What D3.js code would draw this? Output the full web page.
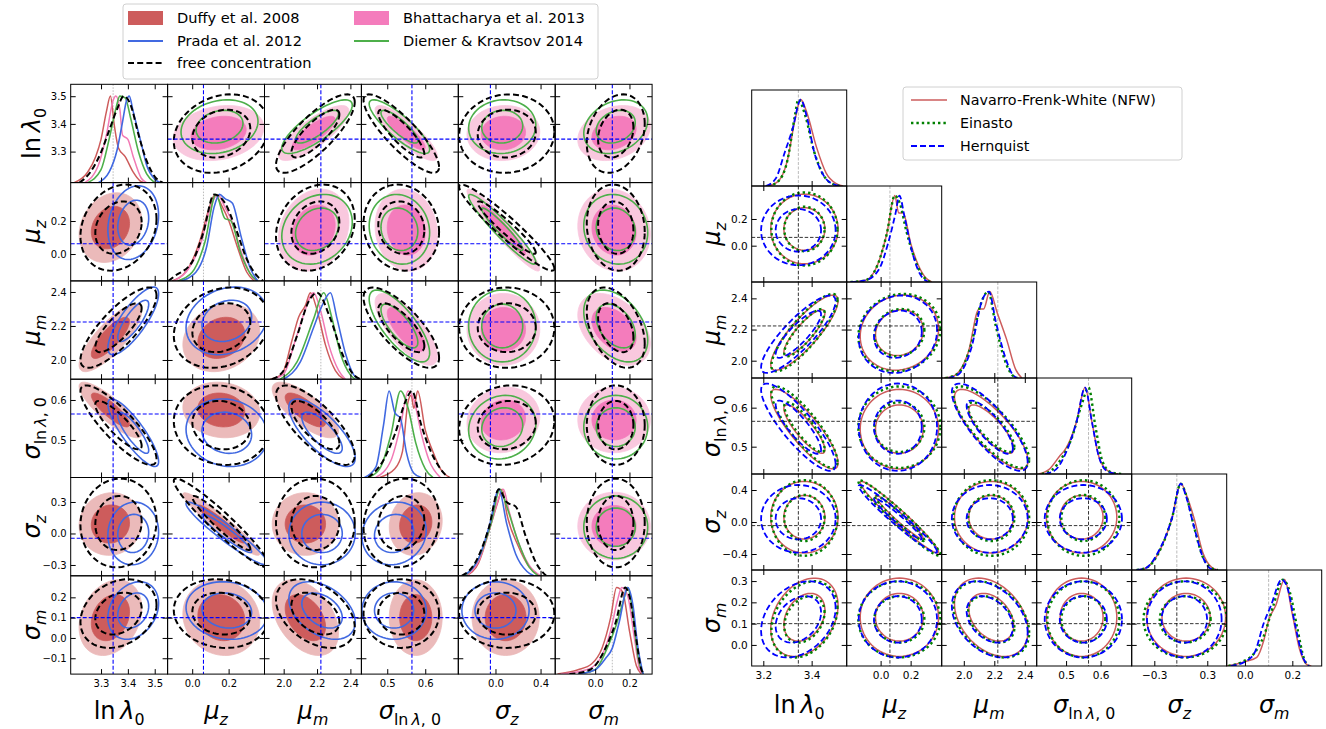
<!DOCTYPE html>
<html>
<head>
<meta charset="utf-8">
<script src="https://cdn.jsdelivr.net/npm/d3@7"></script>
<style>
  body { margin: 0; background: #fff; }
  svg { display: block; }
  text { font-family: "DejaVu Sans", sans-serif; fill: #000; }
</style>
</head>
<body>
<svg id="chart" width="1326" height="729"></svg>
<script>
// parameter order: ln lambda_0, mu_z, mu_m, sigma_lnlambda0, sigma_z, sigma_m
var paramLabels = [
    [{t: 'ln\u2009'}, {t: 'λ', i: 1}, {t: '0', s: 1}],
    [{t: 'μ', i: 1}, {t: 'z', i: 1, s: 1}],
    [{t: 'μ', i: 1}, {t: 'm', i: 1, s: 1}],
    [{t: 'σ', i: 1}, {t: 'ln\u2009', s: 1}, {t: 'λ', i: 1, s: 1}, {t: ', 0', s: 1}],
    [{t: 'σ', i: 1}, {t: 'z', i: 1, s: 1}],
    [{t: 'σ', i: 1}, {t: 'm', i: 1, s: 1}]
];
var truth = [3.345, 0.062, 2.223, 0.565, -0.045, 0.1];

// left corner plot: axis ranges and ticks
var leftXDomain = [[3.187, 3.548], [-0.135, 0.397], [1.885, 2.466], [0.432, 0.687], [-0.33, 0.53], [-0.233, 0.332]];
var leftYDomain = [[3.188, 3.543], [-0.163, 0.433], [1.887, 2.465], [0.406, 0.652], [-0.403, 0.533], [-0.178, 0.306]];
var leftXTicks = [[3.3, 3.4, 3.5], [0.0, 0.2], [2.0, 2.2, 2.4], [0.5, 0.6], [0.0, 0.4], [0.0, 0.2]];
var leftYTicks = [[3.3, 3.4, 3.5], [0.0, 0.2], [2.0, 2.2, 2.4], [0.5, 0.6], [-0.3, 0.0, 0.3], [-0.1, 0.0, 0.1, 0.2]];

// right corner plot: axis ranges and ticks
var rightXDomain = [[3.152, 3.545], [-0.226, 0.407], [1.855, 2.478], [0.415, 0.69], [-0.556, 0.52], [-0.077, 0.324]];
var rightYDomain = [[3.152, 3.545], [-0.272, 0.447], [1.889, 2.505], [0.43, 0.676], [-0.6, 0.6], [-0.099, 0.352]];
var rightXTicks = [[3.2, 3.4], [0.0, 0.2], [2.0, 2.2, 2.4], [0.5, 0.6], [-0.3, 0.3], [0.0, 0.2]];
var rightYTicks = [[3.2, 3.4], [0.0, 0.2], [2.0, 2.2, 2.4], [0.5, 0.6], [-0.4, 0.0, 0.4], [0.0, 0.1, 0.2, 0.3]];

// posterior summaries (mean, sd) per parameter
var duffyMean  = [3.335, 0.16, 2.13, 0.575, 0.09, 0.10];
var duffySd    = [0.047, 0.085, 0.08, 0.028, 0.12, 0.075];
var pradaMean  = [3.42, 0.19, 2.23, 0.518, 0.0, 0.135];
var pradaSd    = [0.038, 0.09, 0.08, 0.034, 0.12, 0.057];
var freeMean   = [3.365, 0.16, 2.19, 0.537, 0.1, 0.12];
var freeSd     = [0.057, 0.105, 0.095, 0.04, 0.17, 0.068];
var bhattMean  = [3.367, 0.145, 2.18, 0.55, 0.07, 0.11];
var bhattSd    = [0.04, 0.1, 0.085, 0.033, 0.13, 0.085];
var diemerMean = [3.39, 0.15, 2.2, 0.532, 0.06, 0.12];
var diemerSd   = [0.039, 0.085, 0.085, 0.032, 0.12, 0.075];

var nfwMean       = [3.37, 0.125, 2.18, 0.545, 0.06, 0.13];
var nfwSd         = [0.056, 0.105, 0.097, 0.041, 0.18, 0.074];
var einastoMean   = [3.37, 0.125, 2.18, 0.55, 0.05, 0.12];
var einastoSd     = [0.055, 0.11, 0.1, 0.042, 0.19, 0.072];
var hernquistMean = [3.345, 0.115, 2.17, 0.55, 0.04, 0.12];
var hernquistSd   = [0.062, 0.105, 0.1, 0.045, 0.17, 0.072];

// correlation coefficients between parameters
var corrLeft = [
    [1, 0.2, 0.8, -0.85, 0.05, 0.25],
    [0.2, 1, 0.2, -0.1, -0.95, -0.1],
    [0.8, 0.2, 1, -0.75, 0.0, -0.4],
    [-0.85, -0.1, -0.75, 1, 0.1, 0.0],
    [0.05, -0.95, 0.0, 0.1, 1, 0.0],
    [0.25, -0.1, -0.4, 0.0, 0.0, 1]
];
var corrRight = [
    [1, 0.0, 0.85, -0.85, 0.0, 0.3],
    [0.0, 1, 0.1, 0.0, -0.97, 0.0],
    [0.85, 0.1, 1, -0.8, 0.0, -0.35],
    [-0.85, 0.0, -0.8, 1, 0.0, 0.0],
    [0.0, -0.97, 0.0, 0.0, 1, 0.0],
    [0.3, 0.0, -0.35, 0.0, 0.0, 1]
];

// 1D marginals: [value, relative height]
var duffyMarg = [
    [[3.20, 0], [3.25, 0.12], [3.28, 0.3], [3.30, 0.5], [3.32, 0.82], [3.335, 1], [3.35, 0.65], [3.365, 0.4], [3.39, 0.3], [3.42, 0.12], [3.445, 0.02], [3.46, 0]],
    [[-0.11, 0], [-0.03, 0.12], [0.04, 0.45], [0.09, 0.82], [0.125, 1], [0.16, 0.88], [0.2, 0.7], [0.25, 0.38], [0.3, 0.1], [0.34, 0]],
    [[1.92, 0], [1.99, 0.06], [2.05, 0.45], [2.09, 0.72], [2.13, 0.85], [2.16, 1], [2.2, 0.8], [2.25, 0.4], [2.31, 0.1], [2.36, 0]],
    [[0.48, 0], [0.52, 0.1], [0.54, 0.3], [0.555, 0.88], [0.563, 0.95], [0.57, 0.8], [0.58, 1], [0.6, 0.55], [0.62, 0.3], [0.64, 0.1], [0.665, 0]],
    [[-0.26, 0], [-0.15, 0.15], [-0.05, 0.55], [0.02, 0.85], [0.06, 1], [0.1, 0.72], [0.2, 0.35], [0.3, 0.1], [0.39, 0]],
    [[-0.22, 0], [-0.1, 0.05], [-0.02, 0.12], [0.04, 0.3], [0.09, 0.65], [0.125, 1], [0.16, 0.95], [0.2, 0.5], [0.24, 0.1], [0.27, 0]]
];
var pradaMarg = [
    [[3.29, 0], [3.33, 0.12], [3.36, 0.38], [3.38, 0.7], [3.395, 0.95], [3.405, 1], [3.42, 0.82], [3.45, 0.45], [3.47, 0.2], [3.5, 0.04], [3.52, 0]],
    [[-0.06, 0], [0.02, 0.1], [0.08, 0.4], [0.12, 0.85], [0.15, 1], [0.18, 0.95], [0.22, 0.9], [0.27, 0.5], [0.32, 0.14], [0.36, 0]],
    [[2.0, 0], [2.1, 0.2], [2.18, 0.6], [2.23, 0.85], [2.28, 1], [2.32, 0.7], [2.37, 0.3], [2.42, 0.05], [2.45, 0]],
    [[0.44, 0], [0.47, 0.12], [0.49, 0.6], [0.505, 1], [0.52, 0.75], [0.535, 0.68], [0.55, 0.3], [0.57, 0.05], [0.59, 0]],
    [[-0.29, 0], [-0.15, 0.2], [-0.05, 0.6], [0.03, 1], [0.1, 0.6], [0.18, 0.25], [0.28, 0.05], [0.34, 0]],
    [[-0.1, 0], [0.0, 0.05], [0.06, 0.18], [0.1, 0.3], [0.14, 0.6], [0.19, 1], [0.22, 0.8], [0.25, 0.3], [0.28, 0]]
];
var freeMarg = [
    [[3.22, 0], [3.26, 0.12], [3.3, 0.35], [3.33, 0.6], [3.36, 0.85], [3.385, 1], [3.41, 0.9], [3.44, 0.55], [3.47, 0.25], [3.5, 0.07], [3.53, 0]],
    [[-0.13, 0], [-0.1, 0.05], [0.0, 0.22], [0.06, 0.55], [0.12, 1], [0.18, 0.9], [0.24, 0.6], [0.3, 0.25], [0.36, 0.05], [0.39, 0]],
    [[1.93, 0], [2.0, 0.1], [2.08, 0.5], [2.15, 0.9], [2.2, 1], [2.28, 0.7], [2.35, 0.3], [2.42, 0.05], [2.46, 0]],
    [[0.45, 0], [0.49, 0.2], [0.52, 0.5], [0.55, 0.9], [0.565, 1], [0.59, 0.6], [0.61, 0.35], [0.64, 0.1], [0.66, 0]],
    [[-0.3, 0], [-0.18, 0.15], [-0.06, 0.55], [0.03, 1], [0.1, 0.85], [0.18, 0.8], [0.27, 0.45], [0.36, 0.15], [0.45, 0]],
    [[-0.15, 0], [-0.03, 0.05], [0.06, 0.3], [0.12, 0.6], [0.175, 1], [0.2, 0.9], [0.24, 0.4], [0.27, 0.05], [0.29, 0]]
];
var bhattMarg = [
    [[3.24, 0], [3.29, 0.2], [3.32, 0.55], [3.345, 0.95], [3.355, 1], [3.37, 0.85], [3.38, 0.55], [3.4, 0.5], [3.42, 0.3], [3.45, 0.05], [3.47, 0]],
    [[-0.1, 0], [-0.02, 0.14], [0.05, 0.45], [0.1, 0.85], [0.14, 1], [0.18, 0.85], [0.22, 0.68], [0.27, 0.33], [0.32, 0.08], [0.35, 0]],
    [[1.93, 0], [2.0, 0.06], [2.07, 0.45], [2.12, 0.75], [2.18, 1], [2.22, 0.8], [2.27, 0.4], [2.33, 0.1], [2.37, 0]],
    [[0.47, 0], [0.51, 0.2], [0.535, 0.6], [0.555, 1], [0.57, 0.9], [0.59, 0.5], [0.61, 0.2], [0.64, 0]],
    [[-0.26, 0], [-0.15, 0.17], [-0.05, 0.55], [0.03, 0.9], [0.07, 1], [0.12, 0.75], [0.2, 0.4], [0.3, 0.12], [0.4, 0]],
    [[-0.2, 0], [-0.05, 0.05], [0.02, 0.15], [0.09, 0.5], [0.13, 0.85], [0.155, 1], [0.19, 0.9], [0.23, 0.4], [0.26, 0.05], [0.28, 0]]
];
var diemerMarg = [
    [[3.25, 0], [3.3, 0.15], [3.33, 0.5], [3.355, 0.85], [3.37, 1], [3.39, 0.98], [3.41, 0.75], [3.44, 0.35], [3.47, 0.1], [3.5, 0]],
    [[-0.08, 0], [0.0, 0.1], [0.07, 0.45], [0.13, 1], [0.18, 0.72], [0.21, 0.7], [0.27, 0.3], [0.33, 0.05], [0.36, 0]],
    [[1.98, 0], [2.08, 0.2], [2.18, 0.7], [2.24, 1], [2.29, 0.7], [2.34, 0.3], [2.4, 0.05], [2.43, 0]],
    [[0.45, 0], [0.48, 0.1], [0.51, 0.5], [0.535, 1], [0.555, 0.8], [0.575, 0.4], [0.6, 0.1], [0.62, 0]],
    [[-0.27, 0], [-0.15, 0.2], [-0.04, 0.6], [0.04, 1], [0.1, 0.8], [0.2, 0.4], [0.3, 0.1], [0.38, 0]],
    [[-0.1, 0], [0.0, 0.05], [0.07, 0.3], [0.12, 0.55], [0.165, 0.85], [0.19, 1], [0.22, 0.7], [0.25, 0.2], [0.28, 0]]
];
var nfwMarg = [
    [[3.22, 0], [3.26, 0.05], [3.3, 0.3], [3.33, 0.75], [3.355, 1], [3.38, 0.85], [3.42, 0.45], [3.46, 0.15], [3.5, 0.03], [3.53, 0]],
    [[-0.2, 0], [-0.1, 0.02], [-0.02, 0.2], [0.04, 0.55], [0.095, 1], [0.12, 0.8], [0.15, 0.8], [0.2, 0.45], [0.25, 0.2], [0.3, 0.05], [0.34, 0]],
    [[1.87, 0], [1.93, 0.02], [2.03, 0.3], [2.1, 0.8], [2.13, 0.8], [2.17, 1], [2.22, 0.75], [2.28, 0.45], [2.34, 0.1], [2.38, 0]],
    [[0.42, 0], [0.45, 0.05], [0.48, 0.2], [0.5, 0.3], [0.53, 0.6], [0.555, 1], [0.575, 0.6], [0.595, 0.2], [0.62, 0.04], [0.65, 0]],
    [[-0.5, 0], [-0.4, 0.02], [-0.25, 0.2], [-0.1, 0.6], [0.0, 1], [0.07, 0.85], [0.15, 0.6], [0.25, 0.2], [0.35, 0.03], [0.42, 0]],
    [[-0.077, 0], [0.0, 0.05], [0.05, 0.1], [0.08, 0.3], [0.1, 0.53], [0.13, 0.7], [0.167, 1], [0.2, 0.6], [0.23, 0.2], [0.26, 0.02], [0.28, 0]]
];
var einastoMarg = [
    [[3.22, 0], [3.26, 0.05], [3.3, 0.3], [3.33, 0.8], [3.345, 1], [3.375, 0.8], [3.41, 0.4], [3.45, 0.12], [3.49, 0.02], [3.52, 0]],
    [[-0.2, 0], [-0.1, 0.02], [-0.02, 0.2], [0.04, 0.55], [0.095, 1], [0.13, 0.9], [0.17, 0.6], [0.22, 0.3], [0.27, 0.1], [0.33, 0]],
    [[1.88, 0], [1.96, 0.05], [2.05, 0.4], [2.11, 0.85], [2.16, 1], [2.21, 0.6], [2.27, 0.2], [2.32, 0.03], [2.35, 0]],
    [[0.43, 0], [0.46, 0.05], [0.49, 0.2], [0.515, 0.4], [0.545, 0.8], [0.565, 1], [0.585, 0.55], [0.605, 0.15], [0.63, 0.02], [0.66, 0]],
    [[-0.5, 0], [-0.4, 0.02], [-0.25, 0.2], [-0.1, 0.6], [0.0, 1], [0.05, 0.9], [0.15, 0.5], [0.25, 0.15], [0.35, 0.02], [0.42, 0]],
    [[-0.07, 0], [-0.01, 0.05], [0.04, 0.15], [0.08, 0.35], [0.12, 0.7], [0.16, 1], [0.19, 0.85], [0.22, 0.45], [0.25, 0.08], [0.27, 0]]
];
var hernquistMarg = [
    [[3.21, 0], [3.25, 0.08], [3.29, 0.4], [3.32, 0.65], [3.355, 1], [3.38, 0.8], [3.41, 0.4], [3.45, 0.12], [3.49, 0.02], [3.52, 0]],
    [[-0.2, 0], [-0.1, 0.02], [-0.01, 0.15], [0.05, 0.45], [0.1, 0.8], [0.125, 1], [0.16, 0.75], [0.21, 0.35], [0.26, 0.1], [0.32, 0]],
    [[1.9, 0], [1.97, 0.05], [2.05, 0.35], [2.12, 0.9], [2.165, 1], [2.21, 0.65], [2.27, 0.25], [2.32, 0.04], [2.35, 0]],
    [[0.44, 0], [0.47, 0.05], [0.5, 0.25], [0.53, 0.6], [0.555, 1], [0.575, 0.6], [0.595, 0.2], [0.62, 0.03], [0.65, 0]],
    [[-0.5, 0], [-0.4, 0.02], [-0.25, 0.22], [-0.1, 0.6], [0.0, 1], [0.06, 0.85], [0.15, 0.5], [0.25, 0.15], [0.33, 0.02], [0.4, 0]],
    [[-0.06, 0], [0.0, 0.05], [0.04, 0.15], [0.08, 0.5], [0.11, 0.7], [0.155, 1], [0.18, 0.9], [0.21, 0.5], [0.245, 0.1], [0.27, 0]]
];

// chi-square radii (2 dof) of the 68% and 95% regions
var levels = [1.515, 2.486];

var svg = d3.select('#chart');
var fmt = d3.format('.1f');

// styles of each run; fills are [68%, 95%]
var duffy  = {mean: duffyMean, sd: duffySd, marg: duffyMarg, fills: ['#cd5c5c', '#ebbaba'], line: '#cd5c5c', lw: 1.5};
var prada  = {mean: pradaMean, sd: pradaSd, marg: pradaMarg, line: '#4169e1', lw: 1.6};
var free   = {mean: freeMean, sd: freeSd, marg: freeMarg, line: '#000', lw: 2, dash: '6,3.2'};
var bhatt  = {mean: bhattMean, sd: bhattSd, marg: bhattMarg, fills: ['#f47cbc', '#f9c8de'], line: '#f27ab5', lw: 1.5};
var diemer = {mean: diemerMean, sd: diemerSd, marg: diemerMarg, line: '#4daf4a', lw: 1.6};
var nfw       = {mean: nfwMean, sd: nfwSd, marg: nfwMarg, line: '#cd5c5c', lw: 1.5};
var einasto   = {mean: einastoMean, sd: einastoSd, marg: einastoMarg, line: '#008000', lw: 2.4, dash: '2.4,3'};
var hernquist = {mean: hernquistMean, sd: hernquistSd, marg: hernquistMarg, line: '#0000ff', lw: 1.8, dash: '6,3'};

// confidence ellipse of a run for parameter pair (i on x, j on y)
var contour = function(run, corr, i, j, k) {
    var rho = corr[i][j];
    return d3.range(0, 73).map(function(n) {
        var t = n / 72 * 2 * Math.PI;
        return [run.mean[i] + k * run.sd[i] * Math.cos(t),
                run.mean[j] + k * run.sd[j] * (rho * Math.cos(t) + Math.sqrt(1 - rho * rho) * Math.sin(t))];
    });
};

var writeLabel = function(sel, parts, size) {
    var down = false;
    parts.forEach(function(p) {
        var ts = sel.append('tspan').text(p.t)
            .style('font-size', (p.s ? size * 0.66 : size) + 'px')
            .style('font-style', p.i ? 'italic' : 'normal');
        if (p.s && !down) { ts.attr('dy', size * 0.27); down = true; }
        else if (!p.s && down) { ts.attr('dy', -size * 0.27); down = false; }
    });
};

var drawGrid = function(o) {
    var n = 6;
    for (var r = 0; r < n; r++) {
        for (var c = 0; c < n; c++) {
            if (o.lowerOnly && c > r) continue;
            var px = o.x0 + c * o.cw, py = o.y0 + r * o.ch;
            var g = svg.append('g').attr('transform', 'translate(' + px + ',' + py + ')');
            var xs = d3.scaleLinear().domain(o.xDom[c]).range([0, o.cw]);
            var ys = d3.scaleLinear().domain(o.yDom[r]).range([o.ch, 0]);
            var id = o.name + r + '_' + c;
            g.append('clipPath').attr('id', id)
              .append('rect').attr('width', o.cw).attr('height', o.ch);
            var body = g.append('g').attr('clip-path', 'url(#' + id + ')');

            if (r === c) {
                var hs = d3.scaleLinear().domain([0, 1]).range([o.ch, o.ch * (1 - o.peak)]);
                body.append('line')
                    .attr('x1', xs(truth[c])).attr('x2', xs(truth[c]))
                    .attr('y1', 0).attr('y2', o.ch)
                    .attr('stroke', '#aaa').attr('stroke-width', 0.8)
                    .attr('stroke-dasharray', o.diagDash);
                var dline = d3.line()
                    .x(function(d) { return xs(d[0]); })
                    .y(function(d) { return hs(d[1]); })
                    .curve(d3.curveMonotoneX);
                o.diagRuns.forEach(function(run) {
                    body.append('path')
                        .attr('d', dline(run.marg[c]))
                        .attr('fill', 'none')
                        .attr('stroke', run.line)
                        .attr('stroke-width', run.lw)
                        .attr('stroke-dasharray', run.dash || null);
                });
            } else {
                var runs = c < r ? o.lowerRuns : o.upperRuns;
                var cline = d3.line()
                    .x(function(d) { return xs(d[0]); })
                    .y(function(d) { return ys(d[1]); })
                    .curve(d3.curveLinearClosed);
                runs.forEach(function(run) {
                    if (run.fills) {
                        // outer (95%) region first, then the 68% region on top
                        [1, 0].forEach(function(l) {
                            body.append('path')
                                .attr('d', cline(contour(run, o.corr, c, r, levels[l])))
                                .attr('fill', run.fills[l])
                                .attr('stroke', run.fills[l])
                                .attr('stroke-width', 0.8);
                        });
                    } else {
                        levels.forEach(function(k) {
                            body.append('path')
                                .attr('d', cline(contour(run, o.corr, c, r, k)))
                                .attr('fill', 'none')
                                .attr('stroke', run.line)
                                .attr('stroke-width', run.lw)
                                .attr('stroke-dasharray', run.dash || null);
                        });
                    }
                });
                body.append('line')
                    .attr('x1', xs(truth[c])).attr('x2', xs(truth[c]))
                    .attr('y1', 0).attr('y2', o.ch)
                    .attr('stroke', o.truthColor).attr('stroke-width', o.truthWidth)
                    .attr('stroke-dasharray', o.truthDash);
                body.append('line')
                    .attr('x1', 0).attr('x2', o.cw)
                    .attr('y1', ys(truth[r])).attr('y2', ys(truth[r]))
                    .attr('stroke', o.truthColor).attr('stroke-width', o.truthWidth)
                    .attr('stroke-dasharray', o.truthDash);
            }

            // inward ticks
            var tickStyle = function(sel) {
                sel.select('.domain').remove();
                sel.selectAll('line').attr('stroke', '#000').attr('stroke-width', 1);
            };
            var diagBare = o.lowerOnly && r === c;
            g.append('g').attr('transform', 'translate(0,' + o.ch + ')')
                .call(d3.axisBottom(xs).tickValues(o.xTicks[c]).tickSize(-o.tick).tickFormat(''))
                .call(tickStyle);
            if (!diagBare) {
                g.append('g')
                    .call(d3.axisTop(xs).tickValues(o.xTicks[c]).tickSize(-o.tick).tickFormat(''))
                    .call(tickStyle);
                g.append('g')
                    .call(d3.axisLeft(ys).tickValues(o.yTicks[r]).tickSize(-o.tick).tickFormat(''))
                    .call(tickStyle);
                g.append('g').attr('transform', 'translate(' + o.cw + ',0)')
                    .call(d3.axisRight(ys).tickValues(o.yTicks[r]).tickSize(-o.tick).tickFormat(''))
                    .call(tickStyle);
            }

            // tick labels on the outer edges
            if (r === n - 1) {
                g.append('g').attr('transform', 'translate(0,' + o.ch + ')')
                    .call(d3.axisBottom(xs).tickValues(o.xTicks[c]).tickSize(0).tickPadding(o.pad).tickFormat(fmt))
                    .call(function(sel) {
                        sel.select('.domain').remove();
                        sel.selectAll('text').style('font-size', o.tickFont + 'px').attr('fill', '#000');
                    });
            }
            if (c === 0 && !(o.lowerOnly && r === 0)) {
                g.append('g')
                    .call(d3.axisLeft(ys).tickValues(o.yTicks[r]).tickSize(0).tickPadding(4).tickFormat(fmt))
                    .call(function(sel) {
                        sel.select('.domain').remove();
                        sel.selectAll('text').style('font-size', o.tickFont + 'px').attr('fill', '#000');
                    });
            }

            g.append('rect')
                .attr('width', o.cw).attr('height', o.ch)
                .attr('fill', 'none').attr('stroke', '#000').attr('stroke-width', 1);
        }
    }

    // axis titles
    for (var k = 0; k < n; k++) {
        var xt = svg.append('text')
            .attr('x', o.x0 + (k + 0.5) * o.cw).attr('y', o.xLabelY)
            .attr('text-anchor', 'middle');
        writeLabel(xt, paramLabels[k], 24);
        if (o.lowerOnly && k === 0) continue;
        var cy = o.y0 + (k + 0.5) * o.ch;
        var yt = svg.append('text')
            .attr('transform', 'translate(' + o.yLabelX + ',' + cy + ') rotate(-90)')
            .attr('text-anchor', 'middle');
        writeLabel(yt, paramLabels[k], 24);
    }
};

drawGrid({
    name: 'L', x0: 70.7, y0: 84.3, cw: 96.9, ch: 98.3,
    xDom: leftXDomain, yDom: leftYDomain, xTicks: leftXTicks, yTicks: leftYTicks,
    corr: corrLeft, lowerOnly: false, peak: 0.88,
    lowerRuns: [duffy, prada, free], upperRuns: [bhatt, diemer, free],
    diagRuns: [duffy, bhatt, diemer, prada, free],
    truthColor: '#0000ff', truthWidth: 1.1, truthDash: '4,2', diagDash: '1.5,1.5',
    tick: 5, tickFont: 10, pad: 6, xLabelY: 719, yLabelX: 40
});

drawGrid({
    name: 'R', x0: 751.7, y0: 90, cw: 95, ch: 96,
    xDom: rightXDomain, yDom: rightYDomain, xTicks: rightXTicks, yTicks: rightYTicks,
    corr: corrRight, lowerOnly: true, peak: 0.9,
    lowerRuns: [nfw, einasto, hernquist], diagRuns: [nfw, einasto, hernquist],
    truthColor: '#000', truthWidth: 0.8, truthDash: '3.5,1.8', diagDash: '3,1.5',
    tick: 5, tickFont: 10.5, pad: 6, xLabelY: 713, yLabelX: 720
});

// legends
var legL = svg.append('g');
legL.append('rect').attr('x', 123).attr('y', 4).attr('width', 475).attr('height', 75)
    .attr('rx', 3).attr('fill', '#fff').attr('stroke', '#d0d0d0');
var legLItems = [
    {label: 'Duffy et al. 2008', run: duffy, x: 128, y: 18},
    {label: 'Prada et al. 2012', run: prada, x: 128, y: 41},
    {label: 'free concentration', run: free, x: 128, y: 63},
    {label: 'Bhattacharya et al. 2013', run: bhatt, x: 354, y: 18},
    {label: 'Diemer & Kravtsov 2014', run: diemer, x: 354, y: 41}
];
legLItems.forEach(function(d) {
    if (d.run.fills) {
        legL.append('rect').attr('x', d.x).attr('y', d.y - 7).attr('width', 35).attr('height', 14)
            .attr('fill', d.run.fills[0]);
    } else {
        legL.append('line').attr('x1', d.x).attr('x2', d.x + 35).attr('y1', d.y).attr('y2', d.y)
            .attr('stroke', d.run.line).attr('stroke-width', d.run.lw + 0.2)
            .attr('stroke-dasharray', d.run.dash || null);
    }
    legL.append('text').attr('x', d.x + 49).attr('y', d.y + 5).style('font-size', '14.6px').text(d.label);
});

var legR = svg.append('g');
legR.append('rect').attr('x', 903).attr('y', 87).attr('width', 279).attr('height', 73)
    .attr('rx', 3).attr('fill', '#fff').attr('stroke', '#d0d0d0');
var legRItems = [
    {label: 'Navarro-Frenk-White (NFW)', run: nfw, y: 100},
    {label: 'Einasto', run: einasto, y: 123},
    {label: 'Hernquist', run: hernquist, y: 146}
];
legRItems.forEach(function(d) {
    legR.append('line').attr('x1', 911).attr('x2', 947).attr('y1', d.y).attr('y2', d.y)
        .attr('stroke', d.run.line).attr('stroke-width', d.run.lw)
        .attr('stroke-dasharray', d.run.dash || null);
    legR.append('text').attr('x', 960).attr('y', d.y + 5).style('font-size', '14.3px').text(d.label);
});
</script>
</body>
</html>
